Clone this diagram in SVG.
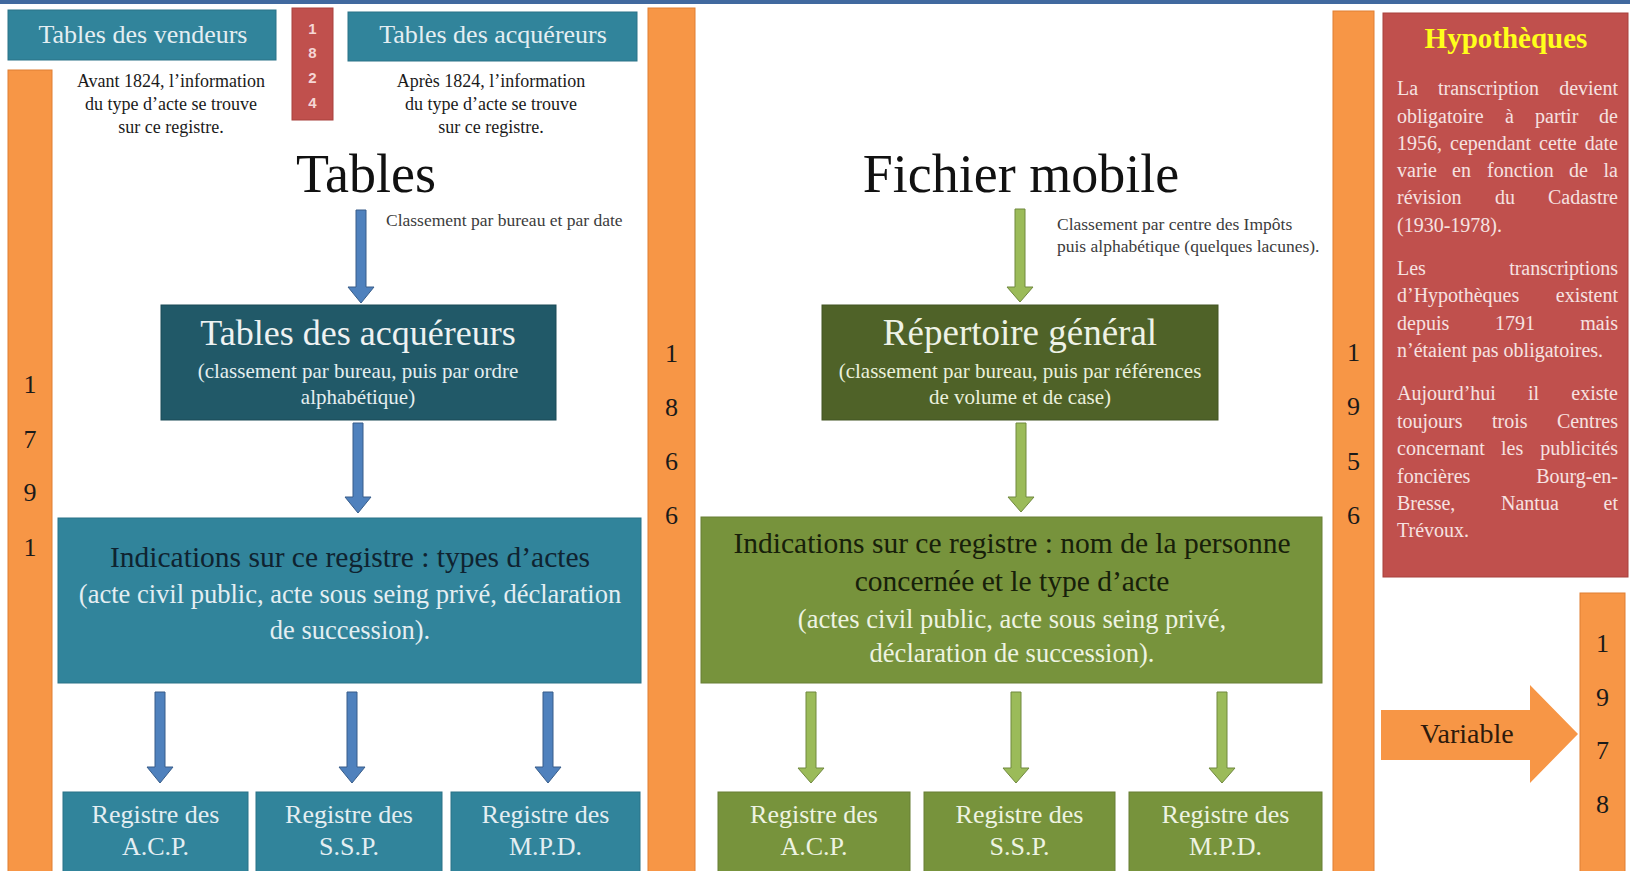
<svg xmlns="http://www.w3.org/2000/svg" width="1630" height="871" viewBox="0 0 1630 871">
<style>
text{font-family:"Liberation Serif","Times New Roman",serif}
.teal{fill:#31849b;stroke:#2a7287;stroke-width:1}
.dteal{fill:#215968;stroke:#1b4a57;stroke-width:1}
.olive{fill:#4f6228;stroke:#435422;stroke-width:1}
.green{fill:#77933c;stroke:#687f35;stroke-width:1}
.orange{fill:#f79646;stroke:#e07f33;stroke-width:1}
.red{fill:#c0504d;stroke:#a8403d;stroke-width:1}
.barnum{font-size:26px;fill:#1a1a1a;text-anchor:middle}
.lt{fill:#e4eef2}
.lg{fill:#eef3e2}
.c{text-anchor:middle}
.e{text-anchor:end}
.small{font-size:18px;fill:#1a1a1a;text-anchor:middle}
.note{font-size:17.5px;fill:#3c3c3c}
.hy{font-size:20px;fill:#f6e2e1}
.ab{fill:#4f81bd;stroke:#385d8a;stroke-width:1}
.ag{fill:#9bbb59;stroke:#71893f;stroke-width:1}
.sans{font-family:"Liberation Sans",Arial,sans-serif;font-size:15px;font-weight:bold;fill:#f5d6d5;text-anchor:middle}
</style>
<rect x="0" y="0" width="1630" height="871" fill="#ffffff"/>
<rect x="0" y="0" width="1630" height="4" fill="#41699f"/>

<g id="bar-1791">
<rect class="orange" x="8" y="70" width="44" height="810"/>
<text class="barnum" x="30" y="393">1</text>
<text class="barnum" x="30" y="448">7</text>
<text class="barnum" x="30" y="501">9</text>
<text class="barnum" x="30" y="556">1</text>
</g>
<g id="bar-1866">
<rect class="orange" x="648" y="8" width="47" height="872"/>
<text class="barnum" x="671.5" y="362">1</text>
<text class="barnum" x="671.5" y="416">8</text>
<text class="barnum" x="671.5" y="470">6</text>
<text class="barnum" x="671.5" y="524">6</text>
</g>
<g id="bar-1956">
<rect class="orange" x="1333" y="11" width="41" height="869"/>
<text class="barnum" x="1353.5" y="361">1</text>
<text class="barnum" x="1353.5" y="415">9</text>
<text class="barnum" x="1353.5" y="470">5</text>
<text class="barnum" x="1353.5" y="524">6</text>
</g>
<g id="bar-1978">
<rect class="orange" x="1580" y="593" width="45" height="287"/>
<text class="barnum" x="1602.5" y="652">1</text>
<text class="barnum" x="1602.5" y="706">9</text>
<text class="barnum" x="1602.5" y="759">7</text>
<text class="barnum" x="1602.5" y="813">8</text>
</g>

<g id="tables-vendeurs">
<rect class="teal" x="8" y="10" width="268" height="50"/>
<text class="lt c" x="143" y="43" font-size="26">Tables des vendeurs</text>
</g>
<g id="date-1824">
<rect class="red" x="292" y="8" width="41" height="112"/>
<text class="sans" x="312.5" y="34">1</text>
<text class="sans" x="312.5" y="58">8</text>
<text class="sans" x="312.5" y="83">2</text>
<text class="sans" x="312.5" y="108">4</text>
</g>
<g id="tables-acquereurs-top">
<rect class="teal" x="348" y="12" width="289" height="49"/>
<text class="lt c" x="493" y="43" font-size="26">Tables des acquéreurs</text>
</g>
<g id="note-avant">
<text class="small" x="171" y="87">Avant 1824, l’information</text>
<text class="small" x="171" y="110">du type d’acte se trouve</text>
<text class="small" x="171" y="133">sur ce registre.</text>
</g>
<g id="note-apres">
<text class="small" x="491" y="87">Après 1824, l’information</text>
<text class="small" x="491" y="110">du type d’acte se trouve</text>
<text class="small" x="491" y="133">sur ce registre.</text>
</g>

<g id="title-tables">
<text class="c" x="366" y="192" font-size="54" fill="#111">Tables</text>
</g>
<g id="note-classement-tables">
<text class="note" x="386" y="226">Classement par bureau et par date</text>
</g>
<g id="tables-acquereurs">
<rect class="dteal" x="161" y="305" width="395" height="115"/>
<text class="c" x="358" y="345" font-size="36" fill="#eef2f2">Tables des acquéreurs</text>
<text class="c" x="358" y="378" font-size="21" fill="#e4eef0">(classement par bureau, puis par ordre</text>
<text class="c" x="358" y="404" font-size="21" fill="#e4eef0">alphabétique)</text>
</g>
<g id="indications-tables">
<rect class="teal" x="58" y="518" width="583" height="165"/>
<text class="c" x="350" y="567" font-size="29.5" fill="#0f2330">Indications sur ce registre : types d’actes</text>
<text class="lt c" x="350" y="603" font-size="26.5">(acte civil public, acte sous seing privé, déclaration</text>
<text class="lt c" x="350" y="639" font-size="26.5">de succession).</text>
</g>
<g id="registre-acp-1">
<rect class="teal" x="63" y="792" width="185" height="90"/>
<text class="lt c" x="155.5" y="823" font-size="26">Registre des</text>
<text class="lt c" x="155.5" y="855" font-size="26">A.C.P.</text>
</g>
<g id="registre-ssp-1">
<rect class="teal" x="256" y="792" width="186" height="90"/>
<text class="lt c" x="349" y="823" font-size="26">Registre des</text>
<text class="lt c" x="349" y="855" font-size="26">S.S.P.</text>
</g>
<g id="registre-mpd-1">
<rect class="teal" x="451" y="792" width="189" height="90"/>
<text class="lt c" x="545.5" y="823" font-size="26">Registre des</text>
<text class="lt c" x="545.5" y="855" font-size="26">M.P.D.</text>
</g>

<g id="title-fichier">
<text class="c" x="1021" y="192" font-size="54" fill="#111">Fichier mobile</text>
</g>
<g id="note-classement-fichier">
<text class="note" x="1057" y="230">Classement par centre des Impôts</text>
<text class="note" x="1057" y="252">puis alphabétique (quelques lacunes).</text>
</g>
<g id="repertoire-general">
<rect class="olive" x="822" y="305" width="396" height="115"/>
<text class="c" x="1020" y="345" font-size="37" fill="#eef2e6">Répertoire général</text>
<text class="c" x="1020" y="378" font-size="21" fill="#eaf0dc">(classement par bureau, puis par références</text>
<text class="c" x="1020" y="404" font-size="21" fill="#eaf0dc">de volume et de case)</text>
</g>
<g id="indications-fichier">
<rect class="green" x="701" y="517" width="621" height="166"/>
<text class="c" x="1012" y="553" font-size="29.5" fill="#17200a">Indications sur ce registre : nom de la personne</text>
<text class="c" x="1012" y="591" font-size="29.5" fill="#17200a">concernée et le type d’acte</text>
<text class="lg c" x="1012" y="628" font-size="26.5">(actes civil public, acte sous seing privé,</text>
<text class="lg c" x="1012" y="662" font-size="26.5">déclaration de succession).</text>
</g>
<g id="registre-acp-2">
<rect class="green" x="718" y="792" width="192" height="90"/>
<text class="lg c" x="814" y="823" font-size="26">Registre des</text>
<text class="lg c" x="814" y="855" font-size="26">A.C.P.</text>
</g>
<g id="registre-ssp-2">
<rect class="green" x="924" y="792" width="191" height="90"/>
<text class="lg c" x="1019.5" y="823" font-size="26">Registre des</text>
<text class="lg c" x="1019.5" y="855" font-size="26">S.S.P.</text>
</g>
<g id="registre-mpd-2">
<rect class="green" x="1129" y="792" width="193" height="90"/>
<text class="lg c" x="1225.5" y="823" font-size="26">Registre des</text>
<text class="lg c" x="1225.5" y="855" font-size="26">M.P.D.</text>
</g>

<g id="hypotheques">
<rect class="red" x="1383" y="13" width="245" height="564"/>
<text class="c" x="1506" y="48" font-size="29" font-weight="bold" fill="#ffff1a">Hypothèques</text>
<g class="hy">
<text x="1397" y="95">La</text><text x="1438" y="95">transcription</text><text class="e" x="1618" y="95">devient</text>
<text x="1397" y="123">obligatoire</text><text x="1505" y="123">à</text><text x="1535" y="123">partir</text><text class="e" x="1618" y="123">de</text>
<text x="1397" y="150">1956,</text><text x="1450" y="150">cependant</text><text x="1539" y="150">cette</text><text class="e" x="1618" y="150">date</text>
<text x="1397" y="177">varie</text><text x="1452" y="177">en</text><text x="1487" y="177">fonction</text><text x="1569" y="177">de</text><text class="e" x="1618" y="177">la</text>
<text x="1397" y="204">révision</text><text x="1495" y="204">du</text><text class="e" x="1618" y="204">Cadastre</text>
<text x="1397" y="232">(1930-1978).</text>
<text x="1397" y="275">Les</text><text class="e" x="1618" y="275">transcriptions</text>
<text x="1397" y="302">d’Hypothèques</text><text class="e" x="1618" y="302">existent</text>
<text x="1397" y="330">depuis</text><text x="1495" y="330">1791</text><text class="e" x="1618" y="330">mais</text>
<text x="1397" y="357">n’étaient pas obligatoires.</text>
<text x="1397" y="400">Aujourd’hui</text><text x="1528" y="400">il</text><text class="e" x="1618" y="400">existe</text>
<text x="1397" y="428">toujours</text><text x="1492" y="428">trois</text><text class="e" x="1618" y="428">Centres</text>
<text x="1397" y="455">concernant</text><text x="1501" y="455">les</text><text class="e" x="1618" y="455">publicités</text>
<text x="1397" y="483">foncières</text><text class="e" x="1618" y="483">Bourg-en-</text>
<text x="1397" y="510">Bresse,</text><text x="1501" y="510">Nantua</text><text class="e" x="1618" y="510">et</text>
<text x="1397" y="537">Trévoux.</text>
</g>
</g>

<g id="variable">
<path d="M1381,710 H1530 V685 L1578,734 L1530,783 V760 H1381 Z" fill="#f79646"/>
<text class="c" x="1467" y="743" font-size="28" fill="#2e1a0c">Variable</text>
</g>

<g id="connectors">
<path class="ab" d="M356,210 H366 V287 H374 L361,303 L348,287 H356 Z"/>
<path class="ab" d="M353,423 H363 V497 H371 L358,513 L345,497 H353 Z"/>
<path class="ab" d="M155,692 H165 V767 H173 L160,783 L147,767 H155 Z"/>
<path class="ab" d="M347,692 H357 V767 H365 L352,783 L339,767 H347 Z"/>
<path class="ab" d="M543,692 H553 V767 H561 L548,783 L535,767 H543 Z"/>
<path class="ag" d="M1015,209 H1025 V287 H1033 L1020,302 L1007,287 H1015 Z"/>
<path class="ag" d="M1016,423 H1026 V497 H1034 L1021,512 L1008,497 H1016 Z"/>
<path class="ag" d="M806,692 H816 V768 H824 L811,783 L798,768 H806 Z"/>
<path class="ag" d="M1011,692 H1021 V768 H1029 L1016,783 L1003,768 H1011 Z"/>
<path class="ag" d="M1217,692 H1227 V768 H1235 L1222,783 L1209,768 H1217 Z"/>
</g>
</svg>
